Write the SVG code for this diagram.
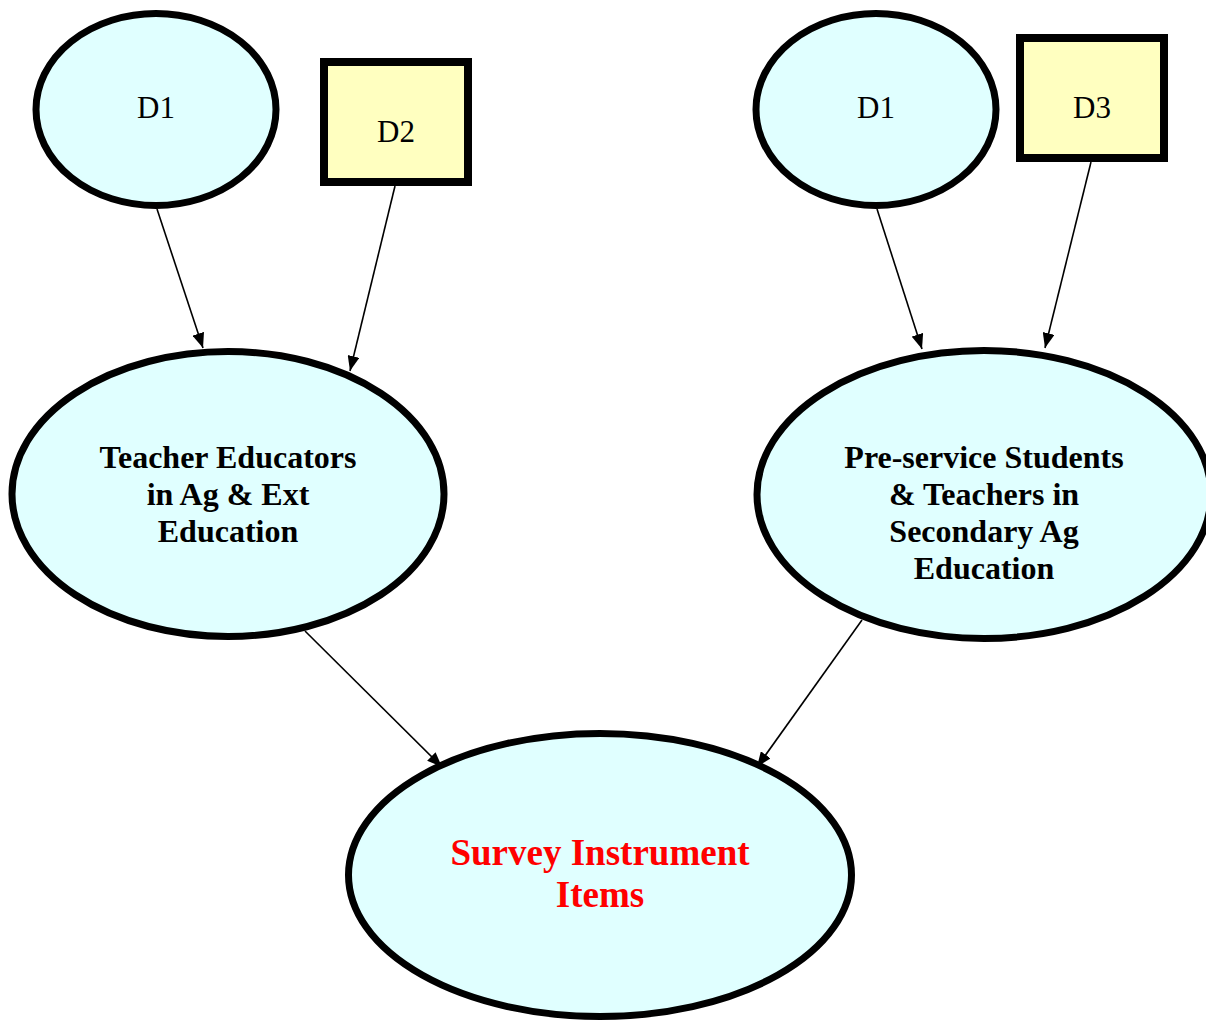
<svg xmlns="http://www.w3.org/2000/svg" width="1206" height="1022" viewBox="0 0 1206 1022">
<style>
.ell{fill:#E0FFFF;stroke:#000;stroke-width:7}
.box{fill:#FFFFC0;stroke:#000;stroke-width:8}
.lbl{font-family:"Liberation Serif","Times New Roman",serif;font-size:31px;fill:#000;text-anchor:middle}
.big{font-family:"Liberation Serif","Times New Roman",serif;font-size:32px;font-weight:bold;fill:#000;text-anchor:middle}
.red{font-family:"Liberation Serif","Times New Roman",serif;font-size:37px;font-weight:bold;fill:#FF0000;text-anchor:middle}
.edge{stroke:#000;stroke-width:1.6;fill:none;marker-end:url(#ah)}
</style>
<defs>
<marker id="ah" markerUnits="userSpaceOnUse" markerWidth="16" markerHeight="12" refX="15" refY="6" orient="auto">
<path d="M0,0 L15,6 L0,12 Z" fill="#000"/>
</marker>
</defs>
<rect width="1206" height="1022" fill="#fff"/>
<g id="connectors">
<line class="edge" x1="157" y1="209" x2="203" y2="348"/>
<line class="edge" x1="395" y1="186" x2="350" y2="371"/>
<line class="edge" x1="877" y1="209" x2="922" y2="349"/>
<line class="edge" x1="1091" y1="162" x2="1045" y2="348"/>
<line class="edge" x1="305" y1="631" x2="442" y2="767"/>
<line class="edge" x1="862" y1="620" x2="757" y2="767"/>
</g>
<g id="d1-left">
<ellipse class="ell" cx="156" cy="109.5" rx="120" ry="96"/>
<text class="lbl" x="156" y="118">D1</text>
</g>
<g id="d2">
<rect class="box" x="324" y="62" width="144" height="120"/>
<text class="lbl" x="396" y="142">D2</text>
</g>
<g id="d1-right">
<ellipse class="ell" cx="876" cy="109.5" rx="120" ry="96"/>
<text class="lbl" x="876" y="118">D1</text>
</g>
<g id="d3">
<rect class="box" x="1020" y="38" width="144" height="120"/>
<text class="lbl" x="1092" y="118">D3</text>
</g>
<g id="teacher-educators">
<ellipse class="ell" cx="228" cy="494" rx="216" ry="142.5"/>
<text class="big" x="228" y="468">Teacher Educators</text>
<text class="big" x="228" y="505">in Ag &amp; Ext</text>
<text class="big" x="228" y="542">Education</text>
</g>
<g id="preservice">
<ellipse class="ell" cx="984" cy="494.5" rx="227" ry="144"/>
<text class="big" x="984" y="468">Pre-service Students</text>
<text class="big" x="984" y="505">&amp; Teachers in</text>
<text class="big" x="984" y="542">Secondary Ag</text>
<text class="big" x="984" y="579">Education</text>
</g>
<g id="survey">
<ellipse class="ell" cx="600" cy="875" rx="251.5" ry="141.5"/>
<text class="red" x="600" y="865">Survey Instrument</text>
<text class="red" x="600" y="907">Items</text>
</g>
</svg>
